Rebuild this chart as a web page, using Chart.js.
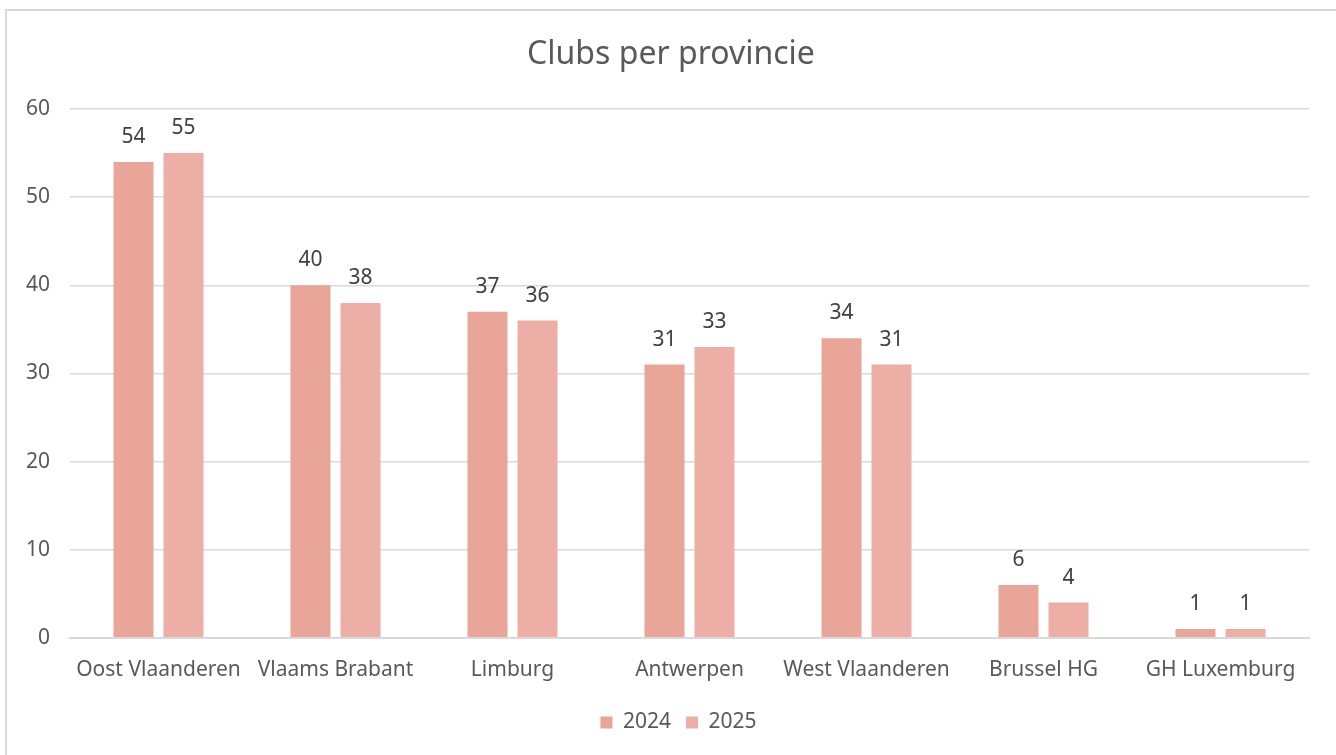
<!DOCTYPE html>
<html>
<head>
<meta charset="utf-8">
<script src="https://cdn.jsdelivr.net/npm/chart.js@4.4.1/dist/chart.umd.min.js"></script>
<style>
  html, body { margin: 0; padding: 0; background: #fff; overflow: hidden; }
  #frame { position: absolute; left: 5px; top: 9px; width: 1340px; height: 760px; border: 2px solid #d9d9d9; box-sizing: border-box; }
  #wrap { position: absolute; left: 0; top: 0; width: 1336px; height: 755px; }
</style>
</head>
<body>
<div id="frame"></div>
<div id="wrap"><canvas id="clubsChart"></canvas></div>
<script>
const provinces = ["Oost Vlaanderen", "Vlaams Brabant", "Limburg", "Antwerpen", "West Vlaanderen", "Brussel HG", "GH Luxemburg"];
const clubs2024 = [54, 40, 37, 31, 34, 6, 1];
const clubs2025 = [55, 38, 36, 33, 31, 4, 1];
const yTicks = [0, 10, 20, 30, 40, 50, 60];

const FONT = "'Noto Sans', 'Open Sans', sans-serif";

// value labels above each bar
const barLabels = {
  id: "barLabels",
  afterDatasetsDraw(chart) {
    const ctx = chart.ctx;
    ctx.save();
    ctx.font = "21px " + FONT;
    ctx.fillStyle = "#404040";
    ctx.textAlign = "center";
    ctx.textBaseline = "middle";
    chart.data.datasets.forEach((ds, i) => {
      chart.getDatasetMeta(i).data.forEach((bar, j) => {
        ctx.fillText(ds.data[j], bar.x, bar.y - 25);
      });
    });
    ctx.restore();
  },
};

// title and legend sit a bit right of the canvas centre in the original
const centreShift = {
  id: "centreShift",
  afterLayout(chart) {
    if (chart.titleBlock) {
      chart.titleBlock.left += 16.5;
      chart.titleBlock.right += 16.5;
    }
    if (chart.legend) {
      chart.legend.left += 24;
      chart.legend.right += 24;
      chart.legend.top -= 6;
      chart.legend.bottom -= 6;
    }
  },
};

document.addEventListener("DOMContentLoaded", () => {
  const ctx = document.getElementById("clubsChart").getContext("2d");

  new Chart(ctx, {
    type: "bar",
    data: {
      labels: provinces,
      datasets: [
        {
          label: "2024",
          data: clubs2024,
          backgroundColor: "#e8a598",
        },
        {
          label: "2025",
          data: clubs2025,
          backgroundColor: "#edaea5",
        },
      ],
    },
    options: {
      responsive: true,
      maintainAspectRatio: false,
      animation: false,
      categoryPercentage: 0.565,
      barPercentage: 0.8,
      layout: {
        padding: { left: 0, right: 27, top: 0, bottom: 6 },
      },
      scales: {
        x: {
          grid: { display: false, drawTicks: false },
          border: { color: "#d9d9d9", width: 2 },
          ticks: { color: "#595959", font: { family: FONT, size: 21 }, padding: 20 },
        },
        y: {
          min: 0,
          max: 60,
          afterFit(scale) { scale.width = 70; },
          afterBuildTicks(scale) { scale.ticks = yTicks.map(v => ({ value: v })); },
          grid: { color: "#d9d9d9", lineWidth: 1.5, drawTicks: false },
          border: { display: false },
          ticks: { color: "#595959", font: { family: FONT, size: 21 }, padding: 20 },
        },
      },
      plugins: {
        title: {
          display: true,
          text: "Clubs per provincie",
          color: "#595959",
          font: { family: FONT, size: 32, weight: "normal" },
          padding: { top: 36, bottom: 34.6 },
        },
        legend: {
          position: "bottom",
          labels: {
            color: "#595959",
            font: { family: FONT, size: 21 },
            boxWidth: 12,
            boxHeight: 12,
            padding: 15,
          },
        },
        tooltip: { enabled: false },
      },
    },
    plugins: [barLabels, centreShift],
  });
});
</script>
</body>
</html>
